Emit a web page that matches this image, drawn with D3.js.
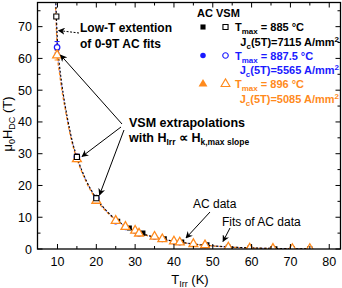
<!DOCTYPE html>
<html><head><meta charset="utf-8">
<script src="https://cdn.jsdelivr.net/npm/d3@7/dist/d3.min.js"></script>
<style>
html,body{margin:0;padding:0;background:#fff;}
svg{display:block;font-family:"Liberation Sans",Arial,sans-serif;}
</style></head>
<body>
<svg id="c" width="342" height="288"></svg>
<script>
// ---------- data ----------
const xTicks = [10, 20, 30, 40, 50, 60, 70, 80];
const yTicks = [0, 10, 20, 30, 40, 50, 60, 70];

// VSM extrapolations (open symbols)
const vsmBlackT = [9.7, 15, 20];
const vsmBlackH = [73.2, 29.0, 16.0];
const vsmBlueT = [9.9, 15, 20];
const vsmBlueH = [63.5, 29.0, 16.0];
const vsmBlueErr = [1.8, 0.8, 0.8];
const vsmOrangeT = [9.9, 15, 20];
const vsmOrangeH = [61.0, 28.3, 15.2];
const vsmOrangeErr = [1.5, 0.8, 0.8];

// AC data (filled symbols)
const acBlackT = [25.5, 28.5, 32, 37.5, 42, 48.5, 54, 59.5, 66, 70.5, 75];
const acBlackH = [8.7, 6.6, 5.0, 3.2, 2.2, 1.3, 0.5, 0.2, 0.1, 0.05, 0.05];
const acBlueT = [25, 27.5, 30, 31, 35, 37, 40, 41.5, 45, 48, 54, 59.5, 65.5, 70.5, 75];
const acBlueH = [8.6, 6.8, 5.6, 4.7, 3.7, 3.0, 2.3, 2.0, 1.5, 1.1, 0.45, 0.1, 0.05, 0.03, 0.02];
const acOrangeT = [25, 27.5, 30, 31, 35, 37, 40, 41.5, 45, 48, 54, 59.5, 65.5, 70.5, 75];
const acOrangeH = [8.9, 7.0, 5.8, 4.9, 3.9, 3.1, 2.4, 2.1, 1.6, 1.2, 0.5, 0.15, 0.1, 0.05, 0.05];

// fits of AC data (incl. low-T extension)
const fitT = [9.5, 9.75, 10, 10.5, 11, 12, 13, 14, 15, 17.5, 20, 22.5, 25, 27.5, 30, 35, 40, 45, 50, 55, 60, 65, 70, 75];
const fitBlackH  = [80, 72, 65, 58, 53, 45, 38.5, 33, 29, 21.3, 16, 12.2, 9.3, 7.2, 5.7, 3.7, 2.45, 1.6, 1.0, 0.6, 0.35, 0.2, 0.1, 0.05];
const fitBlueH   = [78, 70, 62.5, 56.5, 52, 44.5, 38, 32.7, 28.8, 21.2, 15.9, 12.1, 9.2, 7.1, 5.6, 3.6, 2.4, 1.55, 0.95, 0.55, 0.3, 0.15, 0.08, 0.04];
const fitOrangeH = [76, 68, 61, 55.5, 51, 44, 37.5, 32.3, 28.4, 20.9, 15.5, 11.9, 9.1, 7.1, 5.6, 3.6, 2.4, 1.55, 0.95, 0.55, 0.3, 0.15, 0.08, 0.04];

// ---------- setup ----------
const BLACK = "#000", BLUE = "#1a1aff", ORANGE = "#ff8a1c", LBLUE = "#8c8cff";
const L = 37.5, R = 340.5, T = 2.5, B = 249;
const svg = d3.select("#c");
const x = d3.scaleLinear().domain([4.85, 82.9]).range([L, R]);
const y = d3.scaleLinear().domain([0, 77.6]).range([B, T]);

svg.append("defs").append("clipPath").attr("id", "clip")
  .append("rect").attr("x", L).attr("y", T).attr("width", R - L).attr("height", B - T);
const defs = svg.select("defs");
defs.append("marker").attr("id", "ah").attr("viewBox", "0 0 10 10").attr("refX", 9).attr("refY", 5)
  .attr("markerWidth", 7).attr("markerHeight", 7).attr("orient", "auto-start-reverse")
  .attr("markerUnits", "userSpaceOnUse")
  .append("path").attr("d", "M0,0 L10,5 L0,10 L3,5 z").attr("fill", "#000");

const plot = svg.append("g").attr("clip-path", "url(#clip)");

// fit lines
const line = d3.line().x(d => x(d[0])).y(d => y(d[1])).curve(d3.curveMonotoneX);
function drawFit(H, color, dash, w) {
  plot.append("path").datum(fitT.map((t, i) => [t, H[i]]))
    .attr("d", line).attr("fill", "none").attr("stroke", color)
    .attr("stroke-width", w).attr("stroke-dasharray", dash);
}
drawFit(fitBlueH, LBLUE, "1.5,1.5", 1.3);
drawFit(fitOrangeH, ORANGE, "3,2", 1.3);
drawFit(fitBlackH, BLACK, "2,2", 1.1);

// AC points
const sq = d3.symbol().type(d3.symbolSquare).size(26);
const ci = d3.symbol().type(d3.symbolCircle).size(24);
const tr = d3.symbol().type(d3.symbolTriangle).size(34);
function pts(Ts, Hs, sym, fill, stroke, sw) {
  plot.append("g").selectAll("path").data(Ts.map((t, i) => [t, Hs[i]])).join("path")
    .attr("transform", d => `translate(${x(d[0])},${y(d[1])})`)
    .attr("d", sym).attr("fill", fill).attr("stroke", stroke).attr("stroke-width", sw);
}
pts(acBlackT, acBlackH, sq, BLACK, "none", 0);
pts(acBlueT, acBlueH, ci, BLUE, "none", 0);
pts(acOrangeT, acOrangeH, tr, "#fff", ORANGE, 1.3);

// VSM error bars + points
function errs(Ts, Hs, E, color) {
  const g = plot.append("g").attr("stroke", color).attr("stroke-width", 1);
  Ts.forEach((t, i) => {
    const cx = x(t);
    g.append("line").attr("x1", cx).attr("x2", cx).attr("y1", y(Hs[i] - E[i])).attr("y2", y(Hs[i] + E[i]));
    g.append("line").attr("x1", cx - 2.5).attr("x2", cx + 2.5).attr("y1", y(Hs[i] - E[i])).attr("y2", y(Hs[i] - E[i]));
    g.append("line").attr("x1", cx - 2.5).attr("x2", cx + 2.5).attr("y1", y(Hs[i] + E[i])).attr("y2", y(Hs[i] + E[i]));
  });
}
errs(vsmBlueT, vsmBlueH, vsmBlueErr, BLUE);
errs(vsmOrangeT, vsmOrangeH, vsmOrangeErr, ORANGE);
pts(vsmBlueT, vsmBlueH, ci, "#fff", BLUE, 1.2);
pts(vsmOrangeT, vsmOrangeH, tr, "#fff", ORANGE, 1.3);
pts(vsmBlackT, vsmBlackH, sq, "#fff", BLACK, 1.1);

// ---------- axes ----------
const ax = svg.append("g");
ax.append("rect").attr("x", L).attr("y", T).attr("width", R - L).attr("height", B - T)
  .attr("fill", "none").attr("stroke", "#000").attr("stroke-width", 1.3);
const xMinor = d3.range(15, 81, 10);
const yMinor = d3.range(5, 77, 10);
function ticks(vals, len, isX) {
  vals.forEach(v => {
    if (isX) {
      const px = x(v);
      ax.append("line").attr("x1", px).attr("x2", px).attr("y1", B).attr("y2", B - len).attr("stroke", "#000");
      ax.append("line").attr("x1", px).attr("x2", px).attr("y1", T).attr("y2", T + len).attr("stroke", "#000");
    } else {
      const py = y(v);
      ax.append("line").attr("y1", py).attr("y2", py).attr("x1", L).attr("x2", L + len).attr("stroke", "#000");
      ax.append("line").attr("y1", py).attr("y2", py).attr("x1", R).attr("x2", R - len).attr("stroke", "#000");
    }
  });
}
ticks(xTicks, 5, true); ticks(xMinor, 3, true);
ticks(yTicks, 5, false); ticks(yMinor, 3, false);

svg.append("g").selectAll("text").data(xTicks).join("text")
  .attr("x", d => x(d)).attr("y", 266).attr("text-anchor", "middle")
  .attr("font-size", 12.5).text(d => d);
svg.append("g").selectAll("text").data(yTicks).join("text")
  .attr("x", 32).attr("y", d => y(d) + 4.5).attr("text-anchor", "end")
  .attr("font-size", 12.5).text(d => d);

// axis titles
const xt = svg.append("text").attr("x", 190).attr("y", 284).attr("text-anchor", "middle").attr("font-size", 13);
xt.append("tspan").text("T");
xt.append("tspan").attr("font-size", 9).attr("dy", 3).text("Irr");
xt.append("tspan").attr("dy", -3).text(" (K)");

const yt = svg.append("text").attr("transform", "translate(12,124) rotate(-90)").attr("text-anchor", "middle").attr("font-size", 13);
yt.append("tspan").text("μ");
yt.append("tspan").attr("font-size", 9).attr("dy", 3).text("0");
yt.append("tspan").attr("dy", -3).text("H");
yt.append("tspan").attr("font-size", 9).attr("dy", 3).text("DC");
yt.append("tspan").attr("dy", -3).text(" (T)");

// ---------- legend ----------
const lg = svg.append("g").attr("font-weight", "bold").attr("font-size", 11);
lg.append("text").attr("x", 197).attr("y", 17).text("AC");
lg.append("text").attr("x", 216).attr("y", 17).text("VSM");
const legRows = [
  {c: BLACK, ac: sq, ao: true, tmax: "885 °C", jc: "7115", y: 27},
  {c: BLUE, ac: ci, tmax: "887.5 °C", jc: "5565", y: 55.5},
  {c: ORANGE, ac: tr, tmax: "896 °C", jc: "5085", y: 84}
];
legRows.forEach(r => {
  lg.append("path").attr("transform", `translate(203,${r.y})`).attr("d", r.ac).attr("fill", r.c);
  lg.append("path").attr("transform", `translate(225.5,${r.y})`).attr("d", r.ac).attr("fill", "#fff").attr("stroke", r.c).attr("stroke-width", 1.1);
  const t1 = lg.append("text").attr("x", 235).attr("y", r.y + 4).attr("fill", r.c);
  t1.append("tspan").text("T");
  t1.append("tspan").attr("font-size", 8).attr("dy", 3).text("max");
  t1.append("tspan").attr("dy", -3).text(" = " + r.tmax);
  const t2 = lg.append("text").attr("x", 339).attr("y", r.y + 18.5).attr("fill", r.c).attr("text-anchor", "end");
  t2.append("tspan").text("J");
  t2.append("tspan").attr("font-size", 8).attr("dy", 3).text("c");
  t2.append("tspan").attr("dy", -3).text("(5T)=" + r.jc + " A/mm");
  t2.append("tspan").attr("font-size", 8).attr("dy", -4).text("2");
});

// ---------- annotations ----------
const an = svg.append("g").attr("font-size", 12);
an.append("text").attr("x", 80).attr("y", 32).attr("font-weight", "bold").text("Low-T extention");
an.append("text").attr("x", 80).attr("y", 47.5).attr("font-weight", "bold").text("of 0-9T AC fits");
an.append("text").attr("x", 129).attr("y", 126.5).attr("font-weight", "bold").attr("font-size", 12.5).text("VSM extrapolations");
const w = an.append("text").attr("x", 129).attr("y", 141.5).attr("font-weight", "bold").attr("font-size", 12.5);
w.append("tspan").text("with H");
w.append("tspan").attr("font-size", 8.5).attr("dy", 3).text("Irr");
w.append("tspan").attr("dy", -3).text(" ∝ H");
w.append("tspan").attr("font-size", 8.5).attr("dy", 3).text("k,max slope");
an.append("text").attr("x", 193).attr("y", 207.5).text("AC data");
an.append("text").attr("x", 222).attr("y", 226).text("Fits of AC data");

function arrow(x1, y1, x2, y2, dash) {
  an.append("line").attr("x1", x1).attr("y1", y1).attr("x2", x2).attr("y2", y2)
    .attr("stroke", "#000").attr("stroke-width", 1).attr("stroke-dasharray", dash || null)
    .attr("marker-end", "url(#ah)");
}
arrow(79, 33, 58.5, 30.5, "2,1.5");
arrow(122, 124, 60.5, 55);
arrow(121, 127, 82, 156.5);
arrow(124, 130, 99.5, 195);
arrow(210, 212, 186, 238);
arrow(230, 228, 223, 241.5);
</script>
</body></html>
